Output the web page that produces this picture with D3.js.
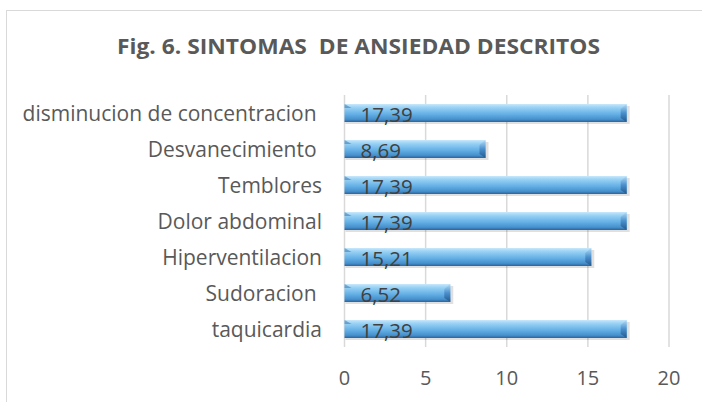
<!DOCTYPE html>
<html>
<head>
<meta charset="utf-8">
<script src="https://cdn.jsdelivr.net/npm/d3@7"></script>
<style>
  body { margin: 0; background: #fff; }
  svg { display: block; font-family: "Open Sans", sans-serif; }
</style>
</head>
<body>
<div id="chart"></div>
<script>
const categories = ["disminucion de concentracion ", "Desvanecimiento ", "Temblores", "Dolor abdominal", "Hiperventilacion", "Sudoracion ", "taquicardia"];
const values = [17.39, 8.69, 17.39, 17.39, 15.21, 6.52, 17.39];
const valueLabels = ["17,39", "8,69", "17,39", "17,39", "15,21", "6,52", "17,39"];
const xTicks = [0, 5, 10, 15, 20];
const title = "Fig. 6. SINTOMAS  DE ANSIEDAD DESCRITOS";

const W = 702, H = 402;
const svg = d3.select("#chart").append("svg")
  .attr("width", W).attr("height", H);

// outer chart frame (runs off right / bottom)
svg.append("rect")
  .attr("x", 6.5).attr("y", 10.5)
  .attr("width", 720).attr("height", 420)
  .attr("fill", "none").attr("stroke", "#d9d9d9").attr("stroke-width", 1);

svg.append("text")
  .attr("x", 117).attr("y", 54)
  .attr("font-size", 21).attr("font-weight", "bold")
  .attr("fill", "#595959")
  .attr("textLength", 483).attr("lengthAdjust", "spacingAndGlyphs")
  .style("white-space", "pre")
  .text(title);

const x = d3.scaleLinear().domain([0, 20]).range([344.5, 669]);
const y = d3.scaleBand().domain(categories).range([95, 347]).paddingInner(0.5).paddingOuter(0.25);

// gradients
const defs = svg.append("defs");
const g1 = defs.append("linearGradient").attr("id", "barGrad")
  .attr("x1", 0).attr("y1", 0).attr("x2", 0).attr("y2", 1);
[["0%", "#c9e8fb"], ["18%", "#9ad3f5"], ["55%", "#66b1e6"], ["85%", "#4690cd"], ["100%", "#2a639c"]]
  .forEach(s => g1.append("stop").attr("offset", s[0]).attr("stop-color", s[1]));
const g2 = defs.append("linearGradient").attr("id", "endGrad")
  .attr("x1", 0).attr("y1", 0).attr("x2", 0).attr("y2", 1);
[["0%", "#b5def8"], ["50%", "#4a8fcc"], ["100%", "#23588d"]]
  .forEach(s => g2.append("stop").attr("offset", s[0]).attr("stop-color", s[1]));

// gridlines
svg.append("g")
  .selectAll("line")
  .data(xTicks)
  .join("line")
    .attr("x1", d => x(d)).attr("x2", d => x(d))
    .attr("y1", 95).attr("y2", 347)
    .attr("stroke", "#d9d9d9").attr("stroke-width", 1.5);

// x tick labels
svg.append("g")
  .selectAll("text")
  .data(xTicks)
  .join("text")
    .attr("x", d => x(d)).attr("y", 385)
    .attr("text-anchor", "middle")
    .attr("font-size", 20).attr("fill", "#595959")
    .text(d => d);

// category labels
svg.append("g")
  .selectAll("text")
  .data(categories)
  .join("text")
    .attr("x", 322).attr("y", d => y(d) + y.bandwidth() / 2 + 8)
    .attr("text-anchor", "end")
    .attr("font-size", 21).attr("fill", "#595959")
    .style("white-space", "pre")
    .text(d => d);

const bh = y.bandwidth();
const bars = svg.append("g")
  .selectAll("g")
  .data(values.map((v, i) => ({ v, c: categories[i], lab: valueLabels[i] })))
  .join("g");

// shadow
bars.append("rect")
  .attr("x", x(0) + 1).attr("y", d => y(d.c) + 2)
  .attr("width", d => x(d.v) - x(0) + 2).attr("height", bh)
  .attr("fill", "#000").attr("opacity", 0.12);

bars.append("rect")
  .attr("x", x(0)).attr("y", d => y(d.c))
  .attr("width", d => x(d.v) - x(0)).attr("height", bh)
  .attr("fill", "url(#barGrad)");

// right end bevel
bars.append("path")
  .attr("d", d => {
    const xe = x(d.v), y0 = y(d.c);
    return `M${xe - 6},${y0 + 5} L${xe},${y0} L${xe},${y0 + bh} L${xe - 6},${y0 + bh - 4} Z`;
  })
  .attr("fill", "url(#endGrad)");

// left top bevel
bars.append("path")
  .attr("d", d => {
    const xs = x(0), y0 = y(d.c);
    return `M${xs},${y0} L${xs + 7},${y0 + 4} L${xs},${y0 + 4} Z`;
  })
  .attr("fill", "#2f6ea8").attr("opacity", 0.5);

bars.append("text")
  .attr("x", x(0) + 16).attr("y", d => y(d.c) + bh / 2 + 8.5)
  .attr("font-size", 20.5).attr("fill", "#404040")
  .text(d => d.lab);
</script>
</body>
</html>
